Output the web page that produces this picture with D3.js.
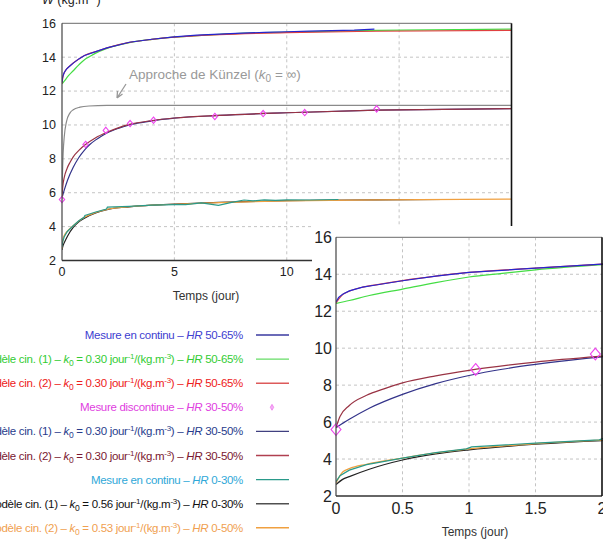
<!DOCTYPE html>
<html>
<head>
<meta charset="utf-8">
<script src="https://cdn.jsdelivr.net/npm/d3@7"></script>
<style>
  body { margin: 0; background: #fff; }
  svg { display: block; font-family: "Liberation Sans", Arial, sans-serif; }
</style>
</head>
<body>
<div id="chart"></div>
<script>
// ---- data: [temps (jour), W (kg.m-3)] ----
var mes5065 = [[0,12.5],[0.02,12.75],[0.05,12.92],[0.1,13.1],[0.2,13.3],[0.3,13.42],[0.5,13.65],[0.75,13.9],[1,14.1],[1.5,14.33],[2,14.55],[3,14.88],[4,15.06],[5,15.2],[6,15.3],[7,15.36],[8,15.42],[9,15.46],[10,15.5],[11,15.54],[12,15.57],[13,15.6],[13.9,15.66]];
var mod1_5065 = [[0,12.42],[0.1,12.58],[0.25,12.85],[0.5,13.2],[0.75,13.55],[1,13.85],[1.25,14.05],[1.5,14.24],[2,14.52],[3,14.86],[4,15.05],[5,15.18],[7,15.35],[10,15.48],[14,15.58],[20,15.66]];
var mod2_5065 = [[0,12.45],[0.05,12.9],[0.1,13.08],[0.2,13.3],[0.3,13.43],[0.5,13.66],[0.75,13.9],[1,14.1],[1.5,14.33],[2,14.55],[3,14.87],[4,15.05],[5,15.18],[7,15.33],[10,15.45],[14,15.53],[20,15.58]];
var mesDisc3050 = [[0,5.6],[1.05,8.85],[1.95,9.68],[3.03,10.08],[4.07,10.28],[6.8,10.5],[8.95,10.67],[10.8,10.73],[14,10.95]];
var mod1_3050 = [[0,5.7],[0.1,6.15],[0.25,6.75],[0.5,7.5],[0.75,8.08],[1,8.52],[1.25,8.86],[1.5,9.12],[1.75,9.34],[2,9.53],[2.5,9.8],[3,10.0],[4,10.24],[5,10.4],[7,10.56],[10,10.72],[14,10.87],[20,10.97]];
var mod2_3050 = [[0,5.7],[0.03,6.3],[0.1,6.9],[0.23,7.45],[0.36,7.8],[0.5,8.12],[0.75,8.5],[1,8.8],[1.5,9.25],[2,9.57],[2.5,9.83],[3,10.03],[4,10.26],[5,10.41],[7,10.57],[10,10.72],[14,10.87],[20,10.97]];
var kunzel = [[0,5.6],[0.02,7.0],[0.05,8.3],[0.1,9.3],[0.2,10.2],[0.35,10.7],[0.5,10.9],[0.8,11.05],[1.2,11.12],[2,11.15],[20,11.15]];
var mes030 = [[0,2.78],[0.03,3.1],[0.1,3.4],[0.23,3.7],[0.5,4.05],[0.75,4.35],[0.98,4.55],[1.02,4.66],[1.5,4.86],[1.98,5.04],[2.02,5.15],[3,5.2],[4,5.27],[5,5.3],[5.5,5.3],[6.2,5.4],[6.96,5.26],[7.5,5.42],[8.1,5.57],[8.5,5.52],[9,5.58],[9.5,5.55],[10,5.58],[11,5.57],[12.3,5.6]];
var mod1_030 = [[0,2.62],[0.05,2.9],[0.1,3.05],[0.25,3.45],[0.5,3.95],[0.75,4.28],[1,4.5],[1.5,4.8],[2,5.0],[3,5.17],[4,5.27],[5,5.33],[7,5.43],[10,5.53],[14,5.58],[17,5.6]];
var mod2_030 = [[0,2.7],[0.05,3.3],[0.1,3.48],[0.23,3.72],[0.5,4.05],[0.75,4.33],[1,4.55],[1.5,4.83],[2,5.02],[3,5.18],[4,5.27],[5,5.32],[7,5.42],[10,5.52],[14,5.58],[20,5.62]];

var xTicksMain = [0, 5, 10, 15, 20];
var xTicksInset = [0, 0.5, 1, 1.5, 2];
var yTicks = [2, 4, 6, 8, 10, 12, 14, 16];
var xTickLabelsInset = ["0", "0.5", "1", "1.5", "2"];

// legend rows: label start, k0 value, HR range
var legendPre = ["Mesure en continu", "Modèle cin. (1)", "Modèle cin. (2)", "Mesure discontinue", "Modèle cin. (1)", "Modèle cin. (2)", "Mesure en continu", "Modèle cin. (1)", "Modèle cin. (2)"];
var legendK0 = [null, "0.30", "0.30", null, "0.30", "0.30", null, "0.56", "0.53"];
var legendHR = ["50-65%", "50-65%", "50-65%", "30-50%", "30-50%", "30-50%", "0-30%", "0-30%", "0-50%"];

var series = [
  { data: kunzel, color: "#8a8a8a", inset: false, curve: d3.curveMonotoneX },
  { data: mod1_5065, color: "#44dd44", inset: true, curve: d3.curveMonotoneX },
  { data: mod2_5065, color: "#e04040", inset: true, curve: d3.curveMonotoneX },
  { data: mes5065, color: "#2626d0", inset: true, curve: d3.curveLinear },
  { data: mod1_3050, color: "#33338a", inset: true, curve: d3.curveMonotoneX },
  { data: mod2_3050, color: "#993344", inset: true, curve: d3.curveMonotoneX },
  { data: mod1_030, color: "#222222", inset: true, curve: d3.curveMonotoneX },
  { data: mod2_030, color: "#f0a040", inset: true, curve: d3.curveMonotoneX },
  { data: mes030, color: "#2a9a8a", inset: true, curve: d3.curveLinear }
];

var legendText = ["#4040d0", "#33cc33", "#ee2020", "#e040e0", "#283c8c", "#7a1830", "#30a8d8", "#111111", "#f0a050"];
var legendLine = ["#3a3aa0", "#66dd66", "#dd5a5a", null, "#404080", "#b04050", "#2a9a8a", "#505050", "#f0a040"];

var svg = d3.select("#chart").append("svg")
  .attr("width", 603).attr("height", 543);

/* draw one framed panel with grid, lines and tick labels */
function panel(cfg) {
  var x = d3.scaleLinear().domain(cfg.xDomain).range([cfg.left, cfg.right]);
  var y = d3.scaleLinear().domain([2, 16]).range([cfg.bottom, cfg.top]);
  var g = svg.append("g");

  g.append("g").selectAll("line.gx")
    .data(cfg.xTicks.slice(1, -1)).enter().append("line")
    .attr("x1", function (d) { return x(d); }).attr("x2", function (d) { return x(d); })
    .attr("y1", cfg.top).attr("y2", cfg.bottom)
    .attr("stroke", "#c4c4c4").attr("stroke-dasharray", "3,3");
  g.append("g").selectAll("line.gy")
    .data(yTicks.slice(1, -1)).enter().append("line")
    .attr("y1", function (d) { return y(d); }).attr("y2", function (d) { return y(d); })
    .attr("x1", cfg.left).attr("x2", cfg.right)
    .attr("stroke", "#c4c4c4").attr("stroke-dasharray", "3,3");

  var clipId = "clip" + cfg.id;
  svg.append("clipPath").attr("id", clipId).append("rect")
    .attr("x", cfg.left).attr("y", cfg.top - 6)
    .attr("width", cfg.right - cfg.left + 6).attr("height", cfg.bottom - cfg.top + 6);

  var lines = g.append("g").attr("clip-path", "url(#" + clipId + ")");
  series.forEach(function (s) {
    if (cfg.id === "inset" && !s.inset) return;
    var line = d3.line().curve(s.curve)
      .x(function (d) { return x(d[0]); })
      .y(function (d) { return y(d[1]); });
    lines.append("path").datum(s.data)
      .attr("d", line).attr("fill", "none")
      .attr("stroke", s.color).attr("stroke-width", 1.2);
  });
  g.selectAll("path.dm").data(mesDisc3050.filter(function (d) { return d[0] <= cfg.xDomain[1]; }))
    .enter().append("path")
    .attr("d", d3.symbol(d3.symbolDiamond, cfg.diamond))
    .attr("transform", function (d) { return "translate(" + x(d[0]) + "," + y(d[1]) + ") scale(1.25,0.85)"; })
    .attr("fill", "none").attr("stroke", "#ee44ee").attr("stroke-width", 1);

  // frame
  g.append("line").attr("x1", cfg.left).attr("x2", cfg.right).attr("y1", cfg.top).attr("y2", cfg.top)
    .attr("stroke", "#888").attr("stroke-width", 1.2);
  g.append("line").attr("x1", cfg.left).attr("x2", cfg.left).attr("y1", cfg.top).attr("y2", cfg.bottom)
    .attr("stroke", "#444").attr("stroke-width", 1.2);
  g.append("line").attr("x1", cfg.left).attr("x2", cfg.right).attr("y1", cfg.bottom).attr("y2", cfg.bottom)
    .attr("stroke", "#333").attr("stroke-width", 1.4);
  g.append("line").attr("x1", cfg.right).attr("x2", cfg.right).attr("y1", cfg.top).attr("y2", cfg.bottom)
    .attr("stroke", "#111").attr("stroke-width", 1.6);

  g.append("g").selectAll("text").data(yTicks).enter().append("text")
    .attr("x", cfg.left - cfg.yLabelGap).attr("y", function (d) { return y(d); })
    .attr("dy", "0.35em").attr("text-anchor", "end")
    .attr("font-size", cfg.tickFont).attr("fill", "#222")
    .text(function (d) { return d; });
  g.append("g").selectAll("text").data(cfg.xTicks).enter().append("text")
    .attr("x", function (d) { return x(d); }).attr("y", cfg.bottom + cfg.xLabelGap)
    .attr("text-anchor", "middle")
    .attr("font-size", cfg.tickFont).attr("fill", "#222")
    .text(function (d, i) { return cfg.xLabels ? cfg.xLabels[i] : d; });

  g.append("text").attr("x", cfg.titleX).attr("y", cfg.titleY)
    .attr("text-anchor", "middle").attr("font-size", 12).attr("fill", "#333")
    .text("Temps (jour)");
  return { x: x, y: y, g: g };
}

// main chart
var main = panel({
  id: "main", xDomain: [0, 20], xTicks: xTicksMain,
  left: 62, right: 511.5, top: 23.3, bottom: 260.5,
  tickFont: 12.5, yLabelGap: 6, xLabelGap: 15, diamond: 16,
  titleX: 206, titleY: 300
});

// y axis title (partly above the window)
var yt = svg.append("text").attr("x", 42).attr("y", 4).attr("font-size", 12.5).attr("fill", "#222");
yt.append("tspan").attr("font-style", "italic").text("W");
yt.append("tspan").text(" (kg.m");
yt.append("tspan").attr("dy", -4).attr("font-size", 9).text("-3");
yt.append("tspan").attr("dy", 4).text(")");

// Künzel annotation
var ann = svg.append("text").attr("x", 129).attr("y", 79).attr("font-size", 13.5).attr("fill", "#999");
ann.append("tspan").text("Approche de Künzel (");
ann.append("tspan").attr("font-style", "italic").text("k");
ann.append("tspan").attr("dy", 3).attr("font-size", 10).text("0");
ann.append("tspan").attr("dy", -3).text(" = \u221e)");
svg.append("path").attr("d", "M126,84 L117,98 M117,98 L117.5,91 M117,98 L122.5,94")
  .attr("fill", "none").attr("stroke", "#999").attr("stroke-width", 1.3);

// legend
var legend = svg.append("g");
legendPre.forEach(function (pre, i) {
  var cy = 335 + i * 24.1;
  var t = legend.append("text").attr("x", 243).attr("y", cy).attr("dy", "0.35em")
    .attr("text-anchor", "end").attr("font-size", 11.5).attr("fill", legendText[i])
    .attr("letter-spacing", -0.3);
  t.append("tspan").text(pre + " \u2013 ");
  if (legendK0[i]) {
    t.append("tspan").attr("font-style", "italic").text("k");
    t.append("tspan").attr("dy", 3).attr("font-size", 8.5).text("0");
    t.append("tspan").attr("dy", -3).text(" = " + legendK0[i] + " jour");
    t.append("tspan").attr("dy", -4).attr("font-size", 8).text("-1");
    t.append("tspan").attr("dy", 4).text("/(kg.m");
    t.append("tspan").attr("dy", -4).attr("font-size", 8).text("-3");
    t.append("tspan").attr("dy", 4).text(") \u2013 ");
  }
  t.append("tspan").attr("font-style", "italic").text("HR");
  t.append("tspan").text(" " + legendHR[i]);
  if (legendLine[i]) {
    legend.append("line").attr("x1", 256).attr("x2", 289).attr("y1", cy).attr("y2", cy)
      .attr("stroke", legendLine[i]).attr("stroke-width", 1.4);
  } else {
    legend.append("path").attr("d", d3.symbol(d3.symbolDiamond, 10))
      .attr("transform", "translate(272," + cy + ")")
      .attr("fill", "#f4b0f4").attr("stroke", "#ee77ee").attr("stroke-width", 0.8);
  }
});

// inset zoom on the first two days
svg.append("rect").attr("x", 312).attr("y", 226).attr("width", 300).attr("height", 330).attr("fill", "#fff");
var inset = panel({
  id: "inset", xDomain: [0, 2], xTicks: xTicksInset, xLabels: xTickLabelsInset,
  left: 336, right: 602, top: 237.3, bottom: 496,
  tickFont: 16, yLabelGap: 4, xLabelGap: 18, diamond: 55,
  titleX: 475, titleY: 536
});
</script>
</body>
</html>
